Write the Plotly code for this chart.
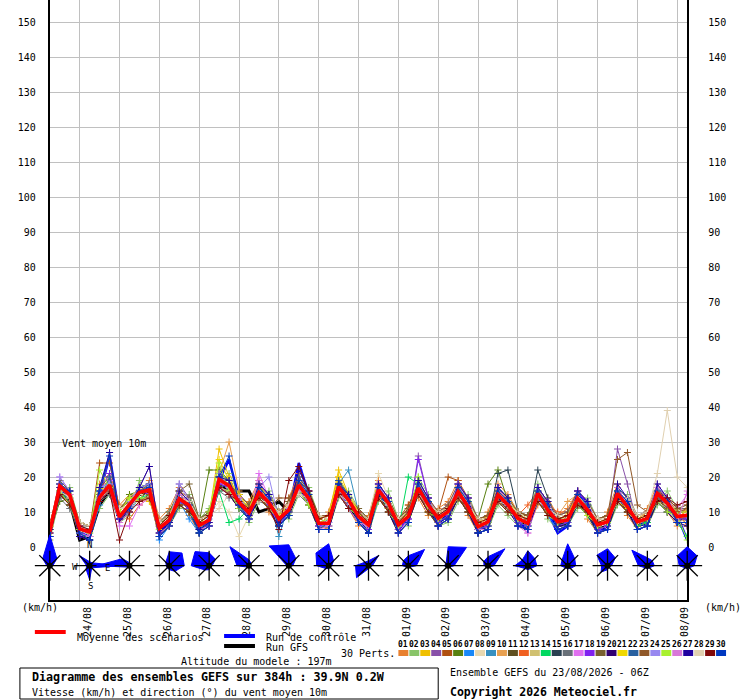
import plotly.graph_objects as go

W, H = 740, 700
FONT = 'DejaVu Sans Mono'

# time axis: GEFS 23/08 06Z, every 6 h up to 384 h
hours = list(range(0, 385, 6))
day_ticks = [18 + 24 * i for i in range(16)]
day_labels = ['24/08', '25/08', '26/08', '27/08', '28/08', '29/08', '30/08', '31/08',
              '01/09', '02/09', '03/09', '04/09', '05/09', '06/09', '07/09', '08/09']
y_ticks = list(range(0, 151, 10))

# ensemble mean, control, GFS (km/h)
mean = [4.4, 17.4, 14.9, 5.2, 4.3, 14.2, 17.7, 8.6, 12.2, 15.6, 16.3, 5.3, 7.7, 13.8, 11.9, 6.2,
        7.7, 19.3, 17.5, 12.7, 9.8, 15.6, 12.7, 8.0, 10.6, 17.7, 13.9, 6.8, 6.8, 17.2, 13.4, 8.7,
        6.3, 16.3, 12.5, 6.3, 8.7, 16.8, 12.0, 8.2, 10.1, 15.8, 11.5, 5.8, 7.2, 14.9, 12.0, 8.2,
        6.8, 15.3, 10.6, 7.2, 7.7, 13.9, 10.6, 6.3, 7.2, 15.3, 11.5, 7.2, 8.2, 15.3, 12.5, 8.7, 9.1]
control = [4, 16, 15, 4, 3, 15, 26, 9, 12, 16, 17, 4, 7, 14, 12, 5,
           7, 19, 25, 14, 9, 16, 14, 7, 10, 24, 15, 6, 6, 17, 13, 8,
           5, 16, 11, 5, 8, 17, 12, 7, 9, 16, 11, 5, 6, 15, 12, 7,
           5, 14, 10, 4, 6, 16, 12, 5, 5, 16, 12, 6, 7, 17, 12, 9, 2]
gfs = [4, 16, 13, 2, 3, 12, 16, 8, 12, 15, 16, 4, 8, 14, 11, 5,
       7, 18, 16, 16, 16, 10, 11, 13, 10, 17, 13, 6, 6, 16, 12, 8,
       5, 15, 11, 5, 8, 16, 11, 7, 9, 15, 11, 5, 6, 14, 11, 7,
       6, 14, 10, 6, 7, 13, 10, 5, 6, 14, 11, 6, 7, 14, 11, 8, 8]

# 30 perturbations
p01 = [6, 19, 12, 3, 2, 18, 21, 12, 15, 13, 19, 8, 11, 17, 9, 4, 6, 22, 15, 11, 13, 19, 10, 6, 14, 21, 12, 5, 10, 20, 11, 6,
       9, 19, 10, 4, 12, 14, 9, 11, 13, 19, 9, 4, 10, 18, 15, 10, 5, 12, 14, 9, 11, 16, 8, 4, 10, 18, 9, 5, 11, 18, 10, 6, 12]
p02 = [2, 14, 17, 7, 6, 11, 15, 7, 9, 19, 14, 3, 6, 11, 15, 8, 11, 16, 21, 15, 7, 13, 16, 10, 8, 15, 17, 9, 5, 14, 16, 11,
       4, 13, 16, 8, 6, 20, 15, 6, 7, 13, 15, 8, 5, 12, 9, 6, 9, 18, 8, 5, 6, 11, 14, 8, 5, 12, 15, 9, 6, 12, 16, 11, 6]
p03 = [5, 15, 13, 4, 5, 16, 16, 10, 14, 14, 13, 6, 9, 12, 10, 7, 9, 28, 20, 14, 11, 14, 11, 10, 12, 16, 12, 8, 9, 22, 15, 7,
       7, 18, 11, 7, 11, 15, 10, 6, 12, 14, 10, 7, 9, 13, 14, 10, 8, 13, 12, 6, 10, 12, 9, 7, 8, 13, 10, 8, 10, 17, 14, 7, 11]
p04 = [3, 18, 16, 6, 3, 13, 27, 8, 11, 17, 23, 4, 7, 18, 14, 5, 7, 17, 16, 12, 9, 17, 15, 7, 10, 16, 15, 6, 6, 15, 14, 8,
       5, 15, 14, 5, 8, 26, 14, 9, 9, 17, 14, 5, 6, 17, 13, 7, 6, 17, 12, 8, 7, 15, 12, 5, 6, 28, 18, 6, 7, 14, 12, 10, 8]
p05 = [7, 16, 13, 5, 5, 24, 24, 11, 13, 13, 15, 7, 10, 16, 14, 8, 10, 20, 16, 15, 12, 18, 12, 9, 13, 20, 16, 9, 8, 18, 12, 10,
       8, 17, 12, 8, 12, 18, 11, 10, 20, 19, 14, 8, 9, 13, 11, 9, 8, 16, 10, 8, 9, 16, 13, 8, 9, 16, 11, 9, 10, 16, 14, 11, 10]
p06 = [4, 13, 14, 7, 6, 13, 16, 10, 15, 16, 17, 6, 10, 16, 10, 7, 22, 22, 19, 12, 12, 14, 11, 9, 9, 19, 13, 8, 9, 16, 12, 11,
       8, 18, 11, 7, 10, 18, 13, 7, 11, 15, 13, 8, 18, 22, 13, 10, 9, 17, 13, 9, 7, 13, 10, 8, 9, 14, 13, 8, 7, 13, 11, 10, 10]
p07 = [4, 19, 16, 4, 2, 12, 19, 8, 11, 15, 18, 2, 6, 13, 8, 4, 6, 20, 16, 11, 8, 17, 15, 6, 10, 19, 15, 5, 5, 15, 11, 7,
       4, 14, 10, 4, 7, 18, 13, 6, 8, 14, 10, 4, 5, 16, 13, 6, 5, 13, 9, 5, 6, 12, 9, 4, 5, 16, 10, 5, 6, 13, 10, 7, 7]
p08 = [6, 17, 15, 6, 6, 16, 16, 11, 11, 15, 17, 7, 9, 15, 13, 8, 9, 13, 10, 3, 9, 15, 14, 10, 12, 16, 12, 9, 8, 16, 14, 10,
       8, 21, 14, 8, 10, 15, 13, 10, 9, 15, 13, 8, 8, 14, 13, 9, 8, 16, 13, 9, 7, 15, 10, 8, 8, 14, 13, 8, 9, 13, 11, 7, 8]
p09 = [3, 15, 14, 6, 5, 16, 17, 8, 10, 14, 14, 6, 9, 15, 13, 7, 9, 17, 18, 14, 11, 14, 14, 3, 12, 19, 13, 6, 8, 18, 22, 10,
       7, 15, 13, 7, 8, 15, 13, 9, 11, 17, 11, 5, 8, 14, 11, 9, 6, 14, 12, 8, 7, 13, 12, 7, 6, 15, 11, 6, 9, 16, 12, 10, 10]
p10 = [5, 18, 16, 7, 3, 17, 17, 11, 14, 17, 15, 4, 7, 16, 11, 8, 10, 21, 30, 16, 9, 18, 12, 7, 10, 17, 16, 8, 9, 16, 12, 8,
       5, 17, 14, 5, 10, 17, 11, 9, 12, 15, 13, 5, 9, 16, 14, 10, 9, 15, 13, 9, 13, 15, 12, 7, 8, 17, 11, 8, 10, 17, 14, 8, 11]
p11 = [5, 16, 12, 4, 5, 14, 16, 7, 13, 13, 17, 4, 6, 12, 13, 5, 7, 18, 15, 11, 11, 15, 11, 9, 9, 16, 15, 6, 6, 18, 14, 7,
       7, 17, 11, 7, 10, 16, 11, 7, 9, 17, 11, 7, 6, 16, 11, 7, 6, 14, 12, 6, 9, 13, 12, 5, 8, 14, 13, 6, 9, 14, 11, 8, 8]
p12 = [6, 18, 14, 3, 3, 17, 19, 10, 8, 12, 14, 3, 6, 15, 13, 5, 7, 21, 19, 14, 9, 17, 14, 9, 12, 19, 13, 6, 5, 15, 14, 10,
       6, 14, 10, 4, 7, 15, 10, 6, 8, 14, 10, 4, 7, 16, 13, 9, 12, 16, 12, 10, 10, 15, 12, 5, 6, 16, 13, 6, 7, 17, 14, 10, 6]
p13 = [2, 15, 15, 7, 6, 13, 16, 11, 14, 17, 18, 7, 10, 12, 10, 8, 10, 17, 16, 12, 12, 14, 11, 10, 13, 16, 12, 9, 9, 19, 15, 11,
       8, 18, 14, 8, 11, 15, 13, 10, 12, 14, 10, 8, 9, 13, 13, 10, 9, 13, 10, 9, 10, 16, 13, 8, 9, 13, 10, 9, 10, 13, 12, 11, 11]
p14 = [5, 16, 13, 4, 2, 16, 19, 9, 11, 14, 15, 4, 7, 15, 13, 5, 7, 16, 7, 8, 11, 17, 14, 7, 10, 17, 15, 6, 6, 18, 12, 8,
       5, 15, 11, 5, 20, 18, 13, 7, 9, 17, 13, 5, 6, 14, 11, 7, 6, 16, 12, 6, 7, 15, 12, 5, 6, 16, 13, 6, 7, 14, 13, 7, 3]
p15 = [3, 16, 12, 4, 3, 13, 16, 7, 10, 16, 16, 3, 6, 13, 11, 4, 6, 17, 15, 11, 8, 14, 11, 6, 9, 16, 12, 5, 5, 15, 11, 7,
       4, 15, 10, 4, 7, 15, 10, 6, 8, 14, 10, 4, 7, 21, 22, 10, 7, 22, 14, 7, 6, 12, 9, 4, 5, 13, 10, 5, 6, 13, 10, 7, 7]
p16 = [5, 14, 11, 6, 6, 13, 15, 11, 13, 13, 14, 7, 10, 12, 14, 8, 10, 16, 14, 15, 12, 13, 12, 10, 13, 15, 12, 9, 9, 15, 11, 11,
       8, 14, 10, 8, 11, 15, 10, 10, 12, 14, 10, 8, 9, 13, 10, 10, 9, 13, 9, 9, 10, 12, 9, 8, 9, 13, 10, 9, 10, 13, 10, 11, 11]
p17 = [4, 20, 16, 6, 3, 15, 19, 6, 6, 12, 14, 6, 9, 15, 13, 5, 7, 18, 18, 12, 9, 21, 14, 7, 10, 19, 15, 6, 6, 18, 14, 8,
       5, 17, 14, 4, 8, 19, 14, 10, 12, 18, 14, 8, 5, 17, 14, 7, 4, 13, 13, 9, 10, 16, 13, 8, 5, 17, 14, 9, 10, 17, 14, 11, 15]
p18 = [3, 17, 15, 3, 5, 16, 21, 8, 11, 16, 15, 4, 7, 13, 11, 7, 6, 18, 17, 12, 8, 15, 12, 6, 10, 17, 13, 6, 7, 16, 12, 10,
       5, 18, 12, 5, 8, 25, 14, 7, 9, 15, 11, 5, 6, 14, 11, 7, 6, 14, 10, 6, 7, 16, 12, 5, 6, 17, 12, 7, 8, 14, 11, 8, 8]
p19 = [6, 19, 16, 7, 6, 17, 20, 11, 14, 16, 18, 7, 9, 16, 18, 8, 10, 20, 18, 15, 12, 17, 15, 10, 13, 19, 16, 9, 9, 19, 14, 11,
       8, 18, 14, 8, 11, 18, 14, 10, 12, 18, 14, 8, 9, 17, 14, 10, 9, 17, 13, 9, 10, 16, 13, 8, 9, 17, 14, 9, 10, 17, 14, 11, 12]
p20 = [3, 15, 13, 3, 2, 13, 17, 7, 11, 17, 18, 3, 6, 12, 10, 4, 6, 17, 15, 11, 8, 14, 11, 6, 9, 16, 13, 5, 5, 15, 11, 7,
       4, 15, 10, 4, 7, 16, 11, 6, 8, 14, 10, 4, 5, 14, 11, 6, 5, 13, 10, 6, 6, 13, 10, 4, 5, 14, 10, 5, 6, 13, 10, 7, 6]
p21 = [6, 17, 16, 5, 4, 17, 16, 10, 14, 13, 14, 6, 9, 16, 13, 7, 9, 25, 19, 15, 11, 18, 14, 9, 12, 16, 15, 8, 9, 20, 15, 10,
       7, 16, 13, 7, 10, 15, 11, 10, 11, 17, 13, 7, 8, 16, 13, 9, 8, 13, 10, 8, 9, 15, 12, 7, 8, 13, 11, 8, 9, 16, 13, 10, 10]
p22 = [4, 18, 12, 4, 3, 13, 20, 7, 10, 17, 18, 3, 6, 12, 10, 4, 9, 21, 19, 11, 8, 18, 15, 6, 9, 20, 16, 5, 7, 19, 15, 7,
       4, 18, 14, 4, 7, 19, 14, 6, 8, 18, 14, 4, 5, 17, 14, 6, 5, 17, 13, 5, 6, 16, 13, 4, 5, 17, 14, 5, 6, 17, 14, 7, 7]
p23 = [5, 15, 13, 7, 6, 15, 16, 11, 13, 13, 15, 7, 9, 12, 12, 8, 9, 17, 15, 13, 11, 14, 11, 14, 14, 19, 13, 9, 9, 16, 11, 10,
       8, 14, 11, 8, 10, 15, 11, 10, 11, 14, 11, 8, 9, 13, 11, 10, 9, 13, 10, 8, 9, 12, 10, 8, 9, 25, 27, 12, 10, 14, 11, 10, 11]
p24 = [4, 20, 16, 5, 4, 17, 18, 9, 13, 17, 18, 5, 8, 18, 13, 6, 8, 21, 17, 14, 10, 17, 20, 8, 11, 16, 13, 7, 7, 15, 12, 9,
       6, 18, 12, 6, 9, 16, 11, 8, 10, 18, 12, 6, 7, 13, 10, 8, 7, 17, 13, 7, 8, 12, 13, 6, 7, 13, 12, 7, 8, 18, 14, 9, 9]
p25 = [6, 16, 12, 5, 4, 22, 17, 10, 14, 14, 14, 5, 8, 12, 10, 6, 10, 24, 16, 11, 10, 14, 11, 8, 10, 16, 12, 7, 8, 15, 11, 9,
       6, 14, 10, 6, 9, 20, 10, 8, 10, 14, 10, 6, 7, 13, 10, 8, 7, 13, 9, 7, 8, 12, 9, 6, 7, 13, 10, 7, 8, 13, 10, 9, 2]
p26 = [4, 18, 15, 4, 3, 13, 16, 7, 10, 16, 17, 4, 6, 15, 13, 5, 6, 17, 15, 14, 8, 19, 14, 7, 12, 16, 16, 5, 6, 15, 11, 7,
       6, 18, 14, 4, 7, 18, 14, 6, 8, 18, 14, 5, 5, 17, 12, 6, 4, 17, 13, 5, 6, 16, 13, 4, 5, 17, 12, 5, 6, 17, 14, 7, 16]
p27 = [5, 17, 16, 3, 2, 17, 27, 8, 11, 17, 23, 4, 7, 16, 13, 5, 7, 20, 19, 12, 9, 18, 15, 7, 10, 22, 16, 5, 5, 18, 15, 7,
       4, 18, 14, 4, 7, 19, 14, 6, 8, 18, 14, 4, 5, 17, 14, 6, 5, 17, 13, 5, 6, 16, 13, 4, 5, 18, 14, 5, 6, 18, 14, 7, 7]
p28 = [6, 16, 14, 7, 6, 14, 16, 11, 12, 13, 14, 7, 9, 14, 13, 8, 9, 11, 15, 13, 11, 13, 13, 10, 12, 15, 14, 9, 8, 15, 13, 10,
       8, 14, 12, 8, 10, 15, 12, 10, 11, 14, 12, 8, 8, 13, 12, 10, 8, 13, 11, 9, 9, 13, 11, 8, 8, 13, 14, 9, 10, 21, 39, 20, 17]
p29 = [4, 15, 12, 6, 5, 13, 16, 2, 10, 13, 14, 6, 9, 12, 10, 7, 9, 17, 15, 13, 11, 14, 11, 5, 19, 23, 16, 8, 9, 15, 11, 10,
       7, 14, 10, 7, 10, 15, 10, 9, 11, 14, 10, 7, 8, 13, 10, 9, 8, 13, 9, 8, 9, 12, 10, 7, 8, 13, 10, 8, 9, 13, 14, 12, 13]
p30 = [3, 18, 16, 4, 2, 16, 26, 9, 11, 16, 17, 3, 6, 14, 12, 4, 6, 20, 26, 12, 8, 17, 14, 6, 9, 19, 15, 5, 5, 18, 14, 7,
       4, 17, 13, 4, 7, 18, 13, 6, 8, 17, 13, 4, 5, 16, 13, 6, 5, 16, 12, 5, 6, 15, 12, 4, 5, 16, 13, 5, 6, 16, 13, 7, 7]

perts = [p01, p02, p03, p04, p05, p06, p07, p08, p09, p10, p11, p12, p13, p14, p15,
         p16, p17, p18, p19, p20, p21, p22, p23, p24, p25, p26, p27, p28, p29, p30]
pert_colors = ['#e8802f', '#88c468', '#f0c000', '#8850a8', '#b05010', '#588010', '#1888f8', '#e8d8b0',
               '#3890c0', '#e8a050', '#605020', '#f06020', '#d0c070', '#00d860', '#284050', '#687078',
               '#e070f0', '#8020f0', '#786030', '#300070', '#f0d800', '#2860a0', '#905828', '#9888f0',
               '#a8f030', '#d878d8', '#2000a0', '#e0d0b0', '#800808', '#0038c0']

# daily wind-direction roses: spread of members per sector (N, NE, E, SE, S, SW, W, NW)
rose_dirs = [0, 45, 90, 135, 180, 225, 270, 315]
rose_hours = [24 * i for i in range(17)]
rose_freq = [
    [31, 10, 3, 2, 2, 2, 3, 10],
    [4, 4, 32, 3, 14, 5, 3, 14],
    [3, 2, 2, 1, 1, 2, 33, 10],
    [14, 18, 15, 8, 4, 3, 3, 5],
    [13, 9, 3, 2, 4, 6, 18, 20],
    [6, 3, 2, 1, 1, 2, 12, 27],
    [21, 10, 4, 1, 1, 1, 2, 28],
    [22, 7, 3, 2, 3, 4, 12, 18],
    [5, 14, 4, 2, 3, 17, 13, 5],
    [10, 23, 8, 2, 2, 2, 6, 7],
    [19, 26, 6, 2, 2, 2, 4, 3],
    [9, 24, 6, 2, 1, 1, 4, 6],
    [15, 10, 9, 4, 4, 4, 13, 8],
    [22, 10, 8, 4, 3, 3, 7, 8],
    [17, 11, 4, 2, 4, 9, 6, 15],
    [8, 7, 7, 3, 3, 3, 9, 22],
    [19, 14, 7, 3, 3, 3, 8, 14],
]


def px(x):
    return x / W


def py(y):
    return 1 - y / H


# plot area in page pixels
X0, X1, Y0, Y1 = 50, 690, 0, 600
PX_PER_KMH = 3.5
ZERO_Y = 547
y_lo = -(Y1 - ZERO_Y) / PX_PER_KMH
y_hi = y_lo + (Y1 - Y0) / PX_PER_KMH

fig = go.Figure()

# deterministic runs underneath, perturbations on top, mean above everything
fig.add_trace(go.Scatter(x=hours, y=gfs, mode='lines', line=dict(color='black', width=3),
                         name='Run GFS', hoverinfo='skip'))
fig.add_trace(go.Scatter(x=hours, y=control, mode='lines', line=dict(color='#0000ff', width=2.5),
                         name='Run de contrôle', hoverinfo='skip'))

for i, (vals, col) in enumerate(zip(perts, pert_colors)):
    fig.add_trace(go.Scatter(x=hours, y=vals, mode='lines+markers',
                             line=dict(color=col, width=1),
                             marker=dict(symbol='cross-thin', size=5, color=col,
                                         line=dict(color=col, width=1)),
                             name=f'{i + 1:02d}', hoverinfo='skip'))

fig.add_trace(go.Scatter(x=hours, y=mean, mode='lines', line=dict(color='#ff0000', width=3.5),
                         name='Moyenne des scénarios', hoverinfo='skip'))
# keeps the right-hand axis alive
fig.add_trace(go.Scatter(x=[hours[0]], y=[0], yaxis='y2', mode='none', hoverinfo='skip'))

# wind roses, one polar subplot per day
R_MAX = 40
SPOKE = 15
for k, (h, freq) in enumerate(zip(rose_hours, rose_freq)):
    name = 'polar' if k == 0 else f'polar{k + 1}'
    cx = X0 + (X1 - X0) * h / 384
    cy = 565.7
    fig.add_trace(go.Scatterpolar(r=freq + freq[:1], theta=rose_dirs + rose_dirs[:1],
                                  mode='lines', fill='toself', fillcolor='#0000ff',
                                  line=dict(color='#0000ff', width=1),
                                  subplot=name, hoverinfo='skip'))
    spoke_r, spoke_t = [], []
    for d in rose_dirs:
        spoke_r += [0, SPOKE, None]
        spoke_t += [d, d, None]
    fig.add_trace(go.Scatterpolar(r=spoke_r, theta=spoke_t, mode='lines',
                                  line=dict(color='black', width=1.3),
                                  subplot=name, hoverinfo='skip'))
    fig.add_trace(go.Scatterpolar(r=[0], theta=[0], mode='markers',
                                  marker=dict(color='black', size=6),
                                  subplot=name, hoverinfo='skip'))
    fig.update_layout({name: dict(
        domain=dict(x=[px(cx - R_MAX), px(cx + R_MAX)], y=[py(cy + R_MAX), py(cy - R_MAX)]),
        bgcolor='rgba(0,0,0,0)',
        radialaxis=dict(range=[0, R_MAX], visible=False),
        angularaxis=dict(visible=False, rotation=90, direction='clockwise'),
    )})

tick_font = dict(family=FONT, size=10, color='black')
fig.update_layout(
    width=W, height=H, autosize=False,
    margin=dict(l=0, r=0, t=0, b=0),
    paper_bgcolor='white', plot_bgcolor='white',
    showlegend=False, hovermode=False,
    font=dict(family=FONT, size=10, color='black'),
    xaxis=dict(domain=[px(X0), px(X1)], range=[0, 384], tickvals=day_ticks, ticktext=day_labels,
               tickangle=-90, ticklabelshift=8, ticklabelstandoff=1, ticks='',
               showgrid=True, gridcolor='#c0c0c0', gridwidth=1, zeroline=False,
               showline=True, linecolor='black', linewidth=2, tickfont=tick_font, fixedrange=True),
    yaxis=dict(domain=[py(Y1), py(Y0)], range=[y_lo, y_hi], tickvals=y_ticks, ticks='',
               ticklabelstandoff=10, showgrid=True, gridcolor='#c0c0c0', gridwidth=1,
               zeroline=False, showline=True, linecolor='black', linewidth=2,
               tickfont=tick_font, fixedrange=True),
    yaxis2=dict(overlaying='y', side='right', range=[y_lo, y_hi], tickvals=y_ticks, ticks='',
                ticklabelstandoff=17, showgrid=False, zeroline=False, showline=True,
                linecolor='black', linewidth=2, tickfont=tick_font, fixedrange=True),
)


# texts
def txt(x, y, s, size=10, bold=False, anchor='left'):
    fig.add_annotation(x=px(x), y=py(y), xref='paper', yref='paper', text=f'<b>{s}</b>' if bold else s,
                       showarrow=False, xanchor=anchor, yanchor='middle',
                       font=dict(family=FONT, size=size, color='black'))


txt(60, 443, 'Vent moyen 10m')
txt(20, 607, '(km/h)')
txt(706, 607, '(km/h)')
txt(90, 545, 'N', 9, anchor='center')
txt(75, 567, 'W', 9, anchor='center')
txt(108, 568, 'E', 9, anchor='center')
txt(91, 586, 'S', 9, anchor='center')

# legend
fig.add_shape(type='line', xref='paper', yref='paper', x0=px(35), x1=px(66), y0=py(632), y1=py(632),
              line=dict(color='#ff0000', width=4))
txt(75, 637, 'Moyenne des scénarios')
fig.add_shape(type='line', xref='paper', yref='paper', x0=px(225), x1=px(256), y0=py(636), y1=py(636),
              line=dict(color='#0000ff', width=4))
txt(265, 637, 'Run de contrôle')
fig.add_shape(type='line', xref='paper', yref='paper', x0=px(225), x1=px(256), y0=py(646), y1=py(646),
              line=dict(color='black', width=4))
txt(265, 647, 'Run GFS')
txt(340, 653, '30 Perts.')
for i, col in enumerate(pert_colors):
    bx = 400 + 11 * i
    fig.add_shape(type='rect', xref='paper', yref='paper', x0=px(bx), x1=px(bx + 10),
                  y0=py(656), y1=py(650), line=dict(width=0), fillcolor=col)
    txt(bx + 5, 644, f'<b>{i + 1:02d}</b>', 8, anchor='center')
txt(180, 661, 'Altitude du modele : 197m')

fig.add_shape(type='rect', xref='paper', yref='paper', x0=px(20), x1=px(440), y0=py(699), y1=py(668),
              line=dict(color='black', width=1))
txt(30, 677, 'Diagramme des ensembles GEFS sur 384h : 39.9N 0.2W', 11.7, bold=True)
txt(30, 692, 'Vitesse (km/h) et direction (°) du vent moyen 10m')
txt(450, 672, 'Ensemble GEFS du 23/08/2026 - 06Z')
txt(450, 692, 'Copyright 2026 Meteociel.fr', 11.5, bold=True)

fig.write_html('out.html', config={'displayModeBar': False},
               post_script="document.body.style.margin='0';")
